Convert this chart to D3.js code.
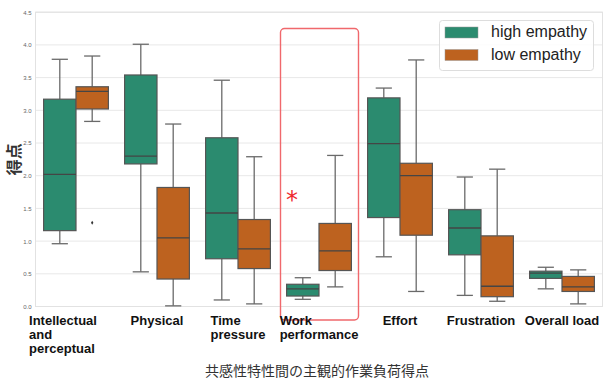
<!DOCTYPE html>
<html>
<head>
<meta charset="utf-8">
<script src="https://cdn.jsdelivr.net/npm/d3@7"></script>
<style>
  html, body { margin: 0; padding: 0; background: #fff; }
  svg { display: block; }
</style>
</head>
<body>
<svg id="chart" width="603" height="383"></svg>
<script>
// Subscale names (one array of text lines per category)
const categories = [
  ["Intellectual", "and", "perceptual"],
  ["Physical"],
  ["Time", "pressure"],
  ["Work", "performance"],
  ["Effort"],
  ["Frustration"],
  ["Overall load"]
];
const groups = ["high empathy", "low empathy"];

// Box statistics per category: [lower whisker, Q1, median, Q3, upper whisker]
const highEmpathy = [
  [0.96, 1.16, 2.02, 3.17, 3.78],
  [0.53, 2.18, 2.30, 3.54, 4.01],
  [0.10, 0.73, 1.43, 2.58, 3.46],
  [0.11, 0.16, 0.27, 0.34, 0.44],
  [0.76, 1.36, 2.49, 3.19, 3.34],
  [0.17, 0.79, 1.20, 1.48, 1.98],
  [0.27, 0.43, 0.51, 0.54, 0.60]
];
const lowEmpathy = [
  [2.83, 3.02, 3.29, 3.36, 3.83],
  [0.01, 0.42, 1.05, 1.82, 2.79],
  [0.04, 0.58, 0.88, 1.33, 2.29],
  [0.30, 0.55, 0.85, 1.27, 2.31],
  [0.23, 1.09, 2.00, 2.19, 3.77],
  [0.08, 0.15, 0.31, 1.08, 2.10],
  [0.04, 0.23, 0.30, 0.46, 0.56]
];
// Outlying points: [category index, group index, value]
const outliers = [[0, 1, 1.28]];

const yTicks = [0, 0.5, 1.0, 1.5, 2.0, 2.5, 3.0, 3.5, 4.0, 4.5];
const yLabel = "得点";
const xLabel = "共感性特性間の主観的作業負荷得点";
const highlightIndex = 3;   // category marked as significant

const colors = ["#2b8b6f", "#bd621f"];
const series = [highEmpathy, lowEmpathy];

const svg = d3.select("#chart");
const W = 603;
const m = { left: 35.5, right: 602.5, top: 12.2, bottom: 306.5 };

const x = d3.scaleBand()
  .domain(d3.range(categories.length))
  .range([m.left, m.right])
  .padding(0);
const hue = d3.scaleBand()
  .domain(d3.range(groups.length))
  .range([0, x.bandwidth() * 0.8]);
const hueOffset = x.bandwidth() * 0.1;
const y = d3.scaleLinear().domain([0, 4.5]).range([m.bottom, m.top]);

// Grid lines
svg.append("g")
  .selectAll("line")
  .data(yTicks)
  .join("line")
  .attr("x1", m.left).attr("x2", m.right)
  .attr("y1", d => y(d)).attr("y2", d => y(d))
  .attr("stroke", "#e8e8e8").attr("stroke-width", 1);

// Frame
svg.append("rect")
  .attr("x", m.left).attr("y", m.top)
  .attr("width", m.right - m.left).attr("height", m.bottom - m.top)
  .attr("fill", "none").attr("stroke", "#e2e2e2").attr("stroke-width", 1);

// Y axis tick labels
const yAxis = d3.axisLeft(y).tickValues(yTicks).tickFormat(d3.format(".1f")).tickSize(0).tickPadding(4);
const gy = svg.append("g").attr("transform", `translate(${m.left},0)`).call(yAxis);
gy.select(".domain").remove();
gy.selectAll("text")
  .attr("font-family", "Liberation Sans, Arial, sans-serif")
  .attr("font-size", 6)
  .attr("fill", "#666");

// Boxes
series.forEach((data, gi) => {
  const g = svg.append("g");
  data.forEach((s, ci) => {
    const [lo, q1, med, q3, hi] = s;
    const x0 = x(ci) + hueOffset + hue(gi);
    const w = hue.bandwidth();
    const cx = x0 + w / 2;
    const capW = w / 4;
    const lineCol = "#6a6a6a";
    // whiskers
    g.append("line").attr("x1", cx).attr("x2", cx).attr("y1", y(q3)).attr("y2", y(hi))
      .attr("stroke", lineCol).attr("stroke-width", 1.3);
    g.append("line").attr("x1", cx).attr("x2", cx).attr("y1", y(q1)).attr("y2", y(lo))
      .attr("stroke", lineCol).attr("stroke-width", 1.3);
    g.append("line").attr("x1", cx - capW).attr("x2", cx + capW).attr("y1", y(hi)).attr("y2", y(hi))
      .attr("stroke", lineCol).attr("stroke-width", 1.3);
    g.append("line").attr("x1", cx - capW).attr("x2", cx + capW).attr("y1", y(lo)).attr("y2", y(lo))
      .attr("stroke", lineCol).attr("stroke-width", 1.3);
    // box
    g.append("rect")
      .attr("x", x0).attr("y", y(q3))
      .attr("width", w).attr("height", y(q1) - y(q3))
      .attr("fill", colors[gi]).attr("stroke", "#555").attr("stroke-width", 1.2);
    // median
    g.append("line").attr("x1", x0).attr("x2", x0 + w).attr("y1", y(med)).attr("y2", y(med))
      .attr("stroke", "#454545").attr("stroke-width", 1.3);
  });
});

// Outliers
svg.append("g").selectAll("path")
  .data(outliers)
  .join("path")
  .attr("d", d3.symbol(d3.symbolDiamond, 5))
  .attr("transform", d => `translate(${x(d[0]) + hueOffset + hue(d[1]) + hue.bandwidth() / 2},${y(d[2])})`)
  .attr("fill", "#333");

// Highlight box and significance marker
const hx = x(highlightIndex);
svg.append("rect")
  .attr("x", hx + 2).attr("y", 28.5)
  .attr("width", x.bandwidth() - 3).attr("height", 291.5)
  .attr("rx", 4)
  .attr("fill", "none").attr("stroke", "#f0686c").attr("stroke-width", 1.4);
svg.append("text")
  .attr("x", hx + 13.5).attr("y", 208)
  .attr("text-anchor", "middle")
  .attr("font-family", "DejaVu Sans, sans-serif")
  .attr("font-size", 24)
  .attr("fill", "#ee2a2e")
  .text("*");

// Category labels (left-aligned lines, block kept inside the page)
const labelShift = { 0: -13 };
const xl = svg.append("g")
  .attr("font-family", "Liberation Sans, Arial, sans-serif")
  .attr("font-weight", "bold")
  .attr("font-size", 13)
  .attr("fill", "#111");
categories.forEach((lines, ci) => {
  const t = xl.append("text").attr("y", 324.5);
  lines.forEach((ln, li) => {
    t.append("tspan").attr("dy", li === 0 ? 0 : 14).text(ln);
  });
  const widths = [];
  t.selectAll("tspan").each(function () { widths.push(this.getComputedTextLength()); });
  const bw = d3.max(widths);
  let sx = x(ci) + x.bandwidth() / 2 - bw / 2 + (labelShift[ci] || 0);
  sx = Math.min(sx, W - 2 - bw);
  t.selectAll("tspan").attr("x", sx);
});

// Axis titles
svg.append("text")
  .attr("transform", `translate(20,${(m.top + m.bottom) / 2}) rotate(-90)`)
  .attr("text-anchor", "middle")
  .attr("font-family", "Noto Sans CJK JP, sans-serif")
  .attr("font-weight", "bold")
  .attr("font-size", 16)
  .attr("fill", "#333")
  .text(yLabel);
svg.append("text")
  .attr("x", 317).attr("y", 376)
  .attr("text-anchor", "middle")
  .attr("font-family", "Noto Sans CJK JP, sans-serif")
  .attr("font-size", 14)
  .attr("fill", "#333")
  .text(xLabel);

// Legend
const lg = svg.append("g");
lg.append("rect")
  .attr("x", 439.5).attr("y", 20.5).attr("width", 154).attr("height", 50)
  .attr("rx", 3)
  .attr("fill", "#fff").attr("fill-opacity", 0.85)
  .attr("stroke", "#dddddd");
groups.forEach((name, gi) => {
  const yy = 27 + gi * 22.5;
  lg.append("rect")
    .attr("x", 445).attr("y", yy).attr("width", 33).attr("height", 11)
    .attr("fill", colors[gi]).attr("stroke", "#999").attr("stroke-width", 0.5);
  lg.append("text")
    .attr("x", 491).attr("y", yy + 10)
    .attr("font-family", "Liberation Sans, Arial, sans-serif")
    .attr("font-size", 16)
    .attr("fill", "#222")
    .text(name);
});
</script>
</body>
</html>
